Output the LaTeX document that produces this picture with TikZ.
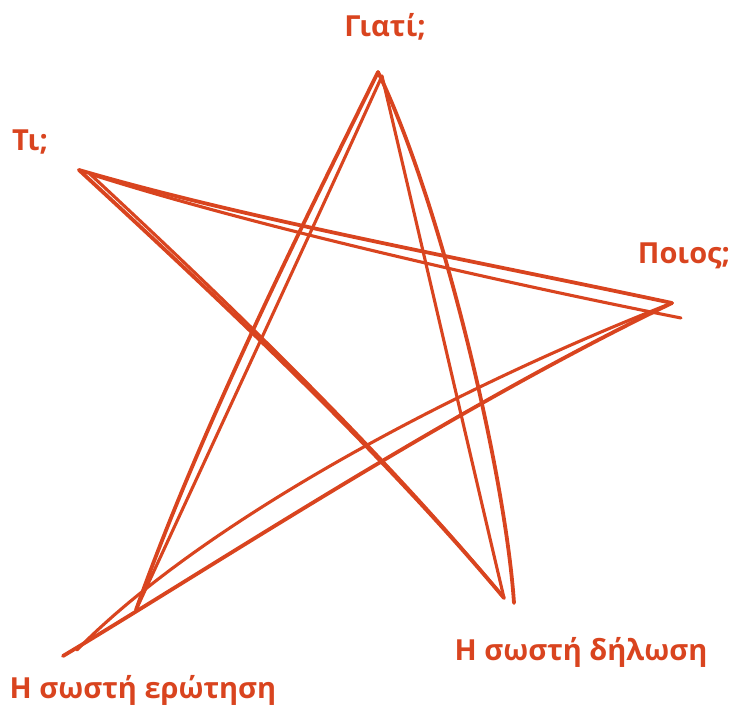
\documentclass[tikz,border=0pt]{standalone}
\usepackage{fontspec}
\setmainfont{Open Sans}
\definecolor{ink}{HTML}{D9441F}
\begin{document}
\begin{tikzpicture}[x=1pt,y=-1pt,
  stroke/.style={draw=ink,line width=3.8pt,line cap=round,line join=round},
  thin/.style={draw=ink,line width=3.1pt,line cap=round,line join=round},
  lbl/.style={text=ink,font=\fontsize{29}{32}\selectfont\bfseries,inner sep=0pt,anchor=base}]
\useasboundingbox (0,0) rectangle (735,709);
% vertices
\coordinate (T) at (378,72);
\coordinate (T2) at (382,76);
\coordinate (UL) at (79,170);
\coordinate (UL2) at (90,174);
\coordinate (R) at (672,303);
\coordinate (R2) at (681,318);
\coordinate (BR) at (514,603);
\coordinate (BR2) at (504,598);
\coordinate (BL) at (63,656);
\coordinate (BL2) at (77,650);
\coordinate (BLa) at (136,610);
% top -> bottom-left
\draw[stroke] (T) .. controls (300,230) and (200,430) .. (BLa);
\draw[thin] (T2) .. controls (302,252) and (218,432) .. (BLa);
% bottom-left -> right
\draw[stroke] (BL) .. controls (215,565) and (450,410) .. (R);
\draw[thin] (BL2) .. controls (195,530) and (430,398) .. (R);
% right -> upper-left
\draw[stroke] (R) .. controls (480,262) and (250,220) .. (UL);
\draw[thin] (R2) .. controls (490,280) and (250,225) .. (UL2);
% upper-left -> bottom-right
\draw[stroke] (UL) .. controls (220,300) and (380,450) .. (BR2);
\draw[thin] (UL2) .. controls (228,302) and (386,455) .. (BR2);
% bottom-right -> top
\draw[stroke] (BR) .. controls (505,470) and (440,200) .. (T);
\draw[thin] (BR2) .. controls (463,424) and (423,250) .. (T2);
% labels
\node[lbl] (lt) at (385,37) {Γιατί;};
\node[lbl] (lul) at (30,150) {Τι;};
\node[lbl] (lr) at (684,263) {Ποιος;};
\node[lbl] (lbl) at (143,698) {Η σωστή ερώτηση};
\node[lbl] (lbr) at (581,660) {Η σωστή δήλωση};
\end{tikzpicture}
\end{document}
